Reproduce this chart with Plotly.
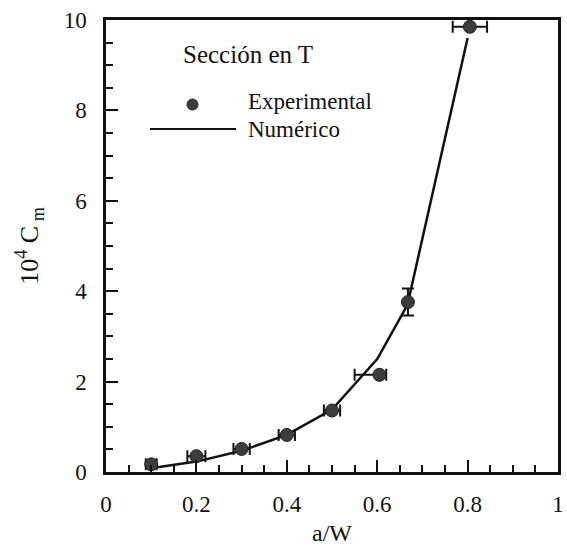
import plotly.graph_objects as go

# Experimental data
exp_x = [0.10, 0.20, 0.30, 0.40, 0.50, 0.605, 0.668, 0.805]
exp_y = [0.17, 0.35, 0.51, 0.82, 1.36, 2.15, 3.76, 9.85]
exp_xerr_plus = [0.012, 0.02, 0.018, 0.018, 0.018, 0.015, 0.0, 0.038]
exp_xerr_minus = [0.012, 0.02, 0.018, 0.018, 0.018, 0.055, 0.0, 0.038]
exp_yerr = [0.0, 0.0, 0.0, 0.0, 0.0, 0.0, 0.3, 0.0]

# Numerical curve
num_x = [0.11, 0.20, 0.30, 0.40, 0.50, 0.60, 0.667, 0.80]
num_y = [0.10, 0.23, 0.47, 0.82, 1.38, 2.50, 3.70, 9.60]

x_ticks = [0, 0.2, 0.4, 0.6, 0.8, 1]
x_tick_labels = ["0", "0.2", "0.4", "0.6", "0.8", "1"]
y_ticks = [0, 2, 4, 6, 8, 10]
y_tick_labels = ["0", "2", "4", "6", "8", "10"]

FONT = "Liberation Serif, Times New Roman, serif"
INK = "#111111"

fig = go.Figure()

fig.add_trace(go.Scatter(
    x=num_x, y=num_y, mode="lines",
    line=dict(color=INK, width=2.5),
    name="Numérico", showlegend=False,
))

fig.add_trace(go.Scatter(
    x=exp_x, y=exp_y, mode="markers",
    marker=dict(color="#3c3c3c", size=13, line=dict(color="#222222", width=1)),
    error_x=dict(type="data", symmetric=False, array=exp_xerr_plus,
                 arrayminus=exp_xerr_minus, color=INK, thickness=2, width=6),
    error_y=dict(type="data", array=exp_yerr, color=INK, thickness=2, width=6),
    name="Experimental", showlegend=False,
))

axis_common = dict(
    showline=True, linecolor=INK, linewidth=2.5, mirror=True,
    ticks="inside", tickcolor=INK, tickwidth=2, ticklen=12,
    showgrid=False, zeroline=False, automargin=False,
    tickfont=dict(family=FONT, size=23, color=INK),
)

fig.update_xaxes(
    range=[0, 1], tickvals=x_ticks, ticktext=x_tick_labels,
    minor=dict(dtick=0.05, ticks="inside", ticklen=7, tickwidth=2, tickcolor=INK),
    title=dict(text="a/W", font=dict(family=FONT, size=24, color=INK), standoff=8),
    ticklabelstandoff=10,
    **axis_common,
)
fig.update_yaxes(
    range=[0, 10], tickvals=y_ticks, ticktext=y_tick_labels,
    minor=dict(dtick=0.5, ticks="inside", ticklen=7, tickwidth=2, tickcolor=INK),
    title=dict(text="10<sup>4</sup> C<sub>&nbsp;m</sub>", font=dict(family=FONT, size=26, color=INK), standoff=18),
    ticklabelstandoff=12,
    **axis_common,
)

# Legend drawn manually (paper coordinates)
W, H = 567, 548
L, R, T, B = 106, 9, 20, 76
pw, ph = W - L - R, H - T - B

def px(x):
    return (x - L) / pw

def py(y):
    return 1 - (y - T) / ph

annotations = [
    dict(text="Sección en T", x=px(181), y=py(54), xref="paper", yref="paper",
         xanchor="left", yanchor="middle", showarrow=False,
         font=dict(family=FONT, size=25, color=INK)),
    dict(text="Experimental", x=px(246), y=py(102), xref="paper", yref="paper",
         xanchor="left", yanchor="middle", showarrow=False,
         font=dict(family=FONT, size=23, color=INK)),
    dict(text="Numérico", x=px(246), y=py(129), xref="paper", yref="paper",
         xanchor="left", yanchor="middle", showarrow=False,
         font=dict(family=FONT, size=23, color=INK)),
]
shapes = [
    dict(type="circle", xref="paper", yref="paper",
         x0=px(187), x1=px(198), y0=py(99), y1=py(110),
         fillcolor="#3c3c3c", line=dict(color="#222222", width=1)),
    dict(type="line", xref="paper", yref="paper",
         x0=px(150), x1=px(236), y0=py(129), y1=py(129),
         line=dict(color=INK, width=2)),
]

fig.update_layout(
    width=W, height=H,
    margin=dict(l=L, r=R, t=T, b=B),
    paper_bgcolor="white", plot_bgcolor="white",
    annotations=annotations, shapes=shapes,
    font=dict(family=FONT, color=INK),
)

fig.write_html("out.html")
